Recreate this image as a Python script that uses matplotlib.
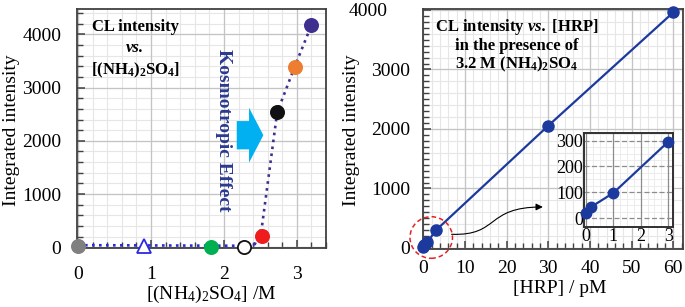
import numpy as np
import matplotlib
matplotlib.use("Agg")
import matplotlib.pyplot as plt
from matplotlib.ticker import MultipleLocator
from matplotlib.patches import Ellipse, FancyArrow, FancyArrowPatch
from matplotlib.path import Path

plt.rcParams['font.family'] = ['Liberation Serif', 'DejaVu Serif']
plt.rcParams['mathtext.fontset'] = 'custom'
plt.rcParams['mathtext.rm'] = 'Liberation Serif'
plt.rcParams['mathtext.it'] = 'Liberation Serif:italic'
plt.rcParams['mathtext.bf'] = 'Liberation Serif:bold'
plt.rcParams['mathtext.bfit'] = 'Liberation Serif:italic:bold'

# --- left panel: CL intensity vs (NH4)2SO4 ---
salt_conc = [0, 0.91, 1.82, 2.28, 2.52, 2.73, 2.97, 3.2]
salt_intensity = [30, 25, 5, 10, 212, 2535, 3392, 4175]
salt_colors = ['#808080', 'white', '#00b050', 'white', '#ee1c1c', '#111111', '#ed7d31', '#3f2f8f']
salt_edges = ['#808080', '#2a2ae0', '#00b050', '#111111', '#ee1c1c', '#111111', '#ed7d31', '#3f2f8f']
salt_markers = ['o', '^', 'o', 'o', 'o', 'o', 'o', 'o']

# dotted trend lines
trend_low_x = [0, 1.0, 2.0, 2.3, 2.42]
trend_low_y = [40, 35, 30, 30, 45]
trend_high_x = [2.42, 2.52, 2.73, 2.97, 3.2]
trend_high_y = [45, 380, 2535, 3392, 4175]

# --- right panel: CL intensity vs [HRP] ---
hrp_conc = [0, 0.2, 1, 3, 30, 60]
hrp_intensity = [20, 45, 98, 295, 2055, 3960]
inset_n = 4  # points shown in the inset

navy = '#1c3a9e'
spine_col = '#404040'


def style_axes(ax, xmin, ymin, xgrid_minor, ygrid_minor, xmaj, ymaj, ylim, xlim):
    ax.set_xlim(*xlim)
    ax.set_ylim(*ylim)
    ax.xaxis.set_major_locator(MultipleLocator(xmaj))
    ax.yaxis.set_major_locator(MultipleLocator(ymaj))
    ax.xaxis.set_minor_locator(MultipleLocator(xmin))
    ax.yaxis.set_minor_locator(MultipleLocator(ymin))
    for v in np.arange(0, xlim[1], xgrid_minor):
        ax.axvline(v, color='#e6e6e6', lw=0.8, zorder=0)
    for v in np.arange(0, ylim[1], ygrid_minor):
        ax.axhline(v, color='#e6e6e6', lw=0.8, zorder=0)
    ax.grid(True, which='major', color='#c4c4c4', lw=0.9, zorder=0)
    ax.set_axisbelow(True)
    for s in ax.spines.values():
        s.set_color(spine_col)
        s.set_linewidth(1.3)
    ax.tick_params(which='both', direction='in', color=spine_col, labelsize=14)
    ax.tick_params(which='major', length=6, width=1.1)
    ax.tick_params(which='minor', length=4, width=1.0)


fig = plt.figure(figsize=(6.85, 3.07), dpi=100)
ax1 = fig.add_axes([0.112, 0.191, 0.364, 0.7785])
ax2 = fig.add_axes([0.617, 0.188, 0.3796, 0.7818])
ax3 = fig.add_axes([0.853, 0.2616, 0.130, 0.306])

# left panel
style_axes(ax1, 0.2, 200, 0.2, 200, 1, 1000, (-20, 4470), (-0.018, 3.4))
ax1.tick_params(axis='x', pad=13)
ax1.tick_params(axis='y', pad=11)
ax1.plot(trend_low_x, trend_low_y, ls=':', lw=1.9, color='#2a2ae0', zorder=2, clip_on=False)
ax1.plot(trend_high_x, trend_high_y, ls=':', lw=1.9, color='#3f2f8f', zorder=2)
for x, y, c, e, m in zip(salt_conc, salt_intensity, salt_colors, salt_edges, salt_markers):
    ax1.plot(x, y, marker=m, ms=9.5 if m == 'o' else 10, mfc=c, mec=e, mew=1.3,
             ls='none', zorder=3, clip_on=False)

ax1.set_ylabel('Integrated intensity', fontsize=14)
ax1.yaxis.set_label_coords(-0.228, 0.495)
ax1.set_xlabel(r'$\mathrm{[(NH_4)_2SO_4]}$ /M', fontsize=14)
ax1.xaxis.set_label_coords(0.539, -0.15)

ax1.text(0.234, 0.926, 'CL intensity', transform=ax1.transAxes, ha='center', va='center',
         fontsize=12, fontweight='bold')
ax1.text(0.234, 0.838, 'vs.', transform=ax1.transAxes, ha='center', va='center',
         fontsize=12, fontweight='bold', fontstyle='italic')
ax1.text(0.234, 0.745, r'$\mathbf{[(NH_4)_2SO_4]}$', transform=ax1.transAxes, ha='center',
         va='center', fontsize=12)
ax1.text(0.587, 0.493, 'Kosmotropic Effect', transform=ax1.transAxes, ha='center', va='center',
         rotation=-90, fontsize=14, fontweight='bold', color='#2b3990')
ax1.add_patch(FancyArrow(0.6418, 0.4734, 0.1067, 0, width=0.1184, head_width=0.23,
                         head_length=0.0574, length_includes_head=True,
                         transform=ax1.transAxes, color='#00b0f0', lw=0))

# right panel
style_axes(ax2, 2, 100, 2, 200, 10, 1000, (-22, 4012), (-0.14, 62.25))
ax2.tick_params(axis='x', pad=8)
ax2.tick_params(axis='y', pad=9)
ax2.plot(hrp_conc, hrp_intensity, '-o', color=navy, lw=1.6, ms=8, zorder=3, clip_on=False)
ax2.set_ylabel('Integrated intensity', fontsize=14)
ax2.yaxis.set_label_coords(-0.24, 0.497)
ax2.set_xlabel('[HRP] / pM', fontsize=14)
ax2.xaxis.set_label_coords(0.528, -0.13)
for lab in ax2.get_yticklabels():
    if lab.get_text() == '4000':
        lab.set_x(-0.085)

ax2.text(0.3615, 0.926, r'CL intensity $\mathbfit{vs.}$ [HRP]', transform=ax2.transAxes,
         ha='center', va='center', fontsize=12, fontweight='bold')
ax2.text(0.3615, 0.847, 'in the presence of', transform=ax2.transAxes,
         ha='center', va='center', fontsize=12, fontweight='bold')
ax2.text(0.3615, 0.770, r'$\mathbf{3.2\ M\ (NH_4)_2SO_4}$', transform=ax2.transAxes,
         ha='center', va='center', fontsize=12)

ax2.add_patch(Ellipse((1.92, 176), 10.2, 699, fill=False, ec='#e52222', lw=1.1,
                      ls=(0, (3, 2)), clip_on=False, zorder=4))
curve = Path([(6.8, 230), (18.4, 202), (14.8, 689), (28.7, 689)],
             [Path.MOVETO, Path.CURVE4, Path.CURVE4, Path.CURVE4])
ax2.add_patch(FancyArrowPatch(path=curve, arrowstyle='-|>', mutation_scale=10,
                              lw=0.8, color='black', zorder=4))

# inset
ax3.set_xlim(-0.06, 3.19)
ax3.set_ylim(-32, 330)
ax3.xaxis.set_major_locator(MultipleLocator(1))
ax3.yaxis.set_major_locator(MultipleLocator(100))
for v in np.arange(0.25, 3.2, 0.25):
    ax3.axvline(v, color='#ececec', lw=0.7, zorder=0)
for v in np.arange(25, 330, 25):
    ax3.axhline(v, color='#ececec', lw=0.7, zorder=0)
ax3.grid(True, axis='x', which='major', color='#8c8c8c', lw=0.9)
ax3.grid(True, axis='y', which='major', color='#8c8c8c', lw=0.9, ls=(0, (4, 2)))
ax3.set_axisbelow(True)
for s in ax3.spines.values():
    s.set_color('#303030')
    s.set_linewidth(1.4)
ax3.tick_params(length=0, labelsize=13, pad=1)
ax3.plot(hrp_conc[:inset_n], hrp_intensity[:inset_n], '-o', color=navy, lw=1.6, ms=7.5,
         zorder=3, clip_on=False)

fig.savefig('out.png', dpi=100)
